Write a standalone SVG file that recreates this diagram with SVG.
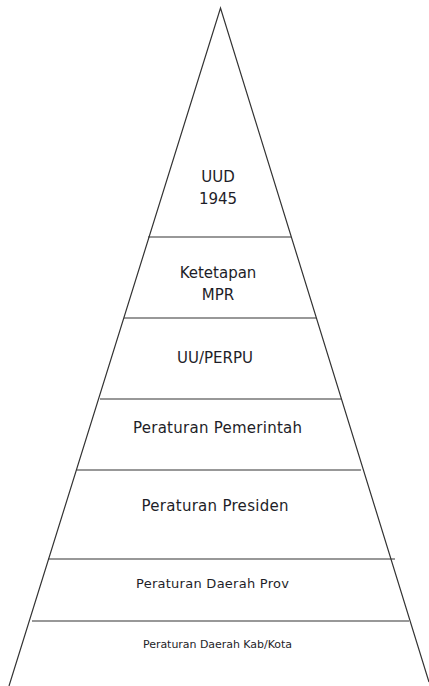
<svg xmlns="http://www.w3.org/2000/svg" width="429" height="686" viewBox="0 0 429 686">
<style>
.edge{stroke:#333;stroke-width:1.2;fill:none}
.div{stroke:#333;stroke-width:1.2}
text{font-family:"DejaVu Sans","Verdana",sans-serif;fill:#1e1e28;text-anchor:middle}
.l{font-size:15px}
.m{font-size:13px}
.s{font-size:11px}
</style>
<rect width="429" height="686" fill="#fff"/>
<g id="connectors">
<path class="edge" d="M9,686 L220.5,8 L429,682"/>
<line class="div" x1="148" y1="237" x2="291" y2="237"/>
<line class="div" x1="124" y1="318" x2="316" y2="318"/>
<line class="div" x1="100" y1="399" x2="341" y2="399"/>
<line class="div" x1="77" y1="470" x2="361" y2="470"/>
<line class="div" x1="48" y1="559" x2="395" y2="559"/>
<line class="div" x1="32" y1="621" x2="409" y2="621"/>
</g>
<g id="uud"><text class="l" x="218" y="182">UUD</text><text class="l" x="218" y="204">1945</text></g>
<g id="tap-mpr"><text class="l" x="218" y="278">Ketetapan</text><text class="l" x="218" y="300">MPR</text></g>
<g id="uu-perpu"><text class="l" x="215" y="363">UU/PERPU</text></g>
<g id="pp"><text class="l" x="217.5" y="433" textLength="169">Peraturan Pemerintah</text></g>
<g id="perpres"><text class="l" x="215" y="511" textLength="147">Peraturan Presiden</text></g>
<g id="perda-prov"><text class="m" x="212.5" y="588" textLength="153">Peraturan Daerah Prov</text></g>
<g id="perda-kab"><text class="s" x="217.5" y="648" textLength="149">Peraturan Daerah Kab/Kota</text></g>
</svg>
